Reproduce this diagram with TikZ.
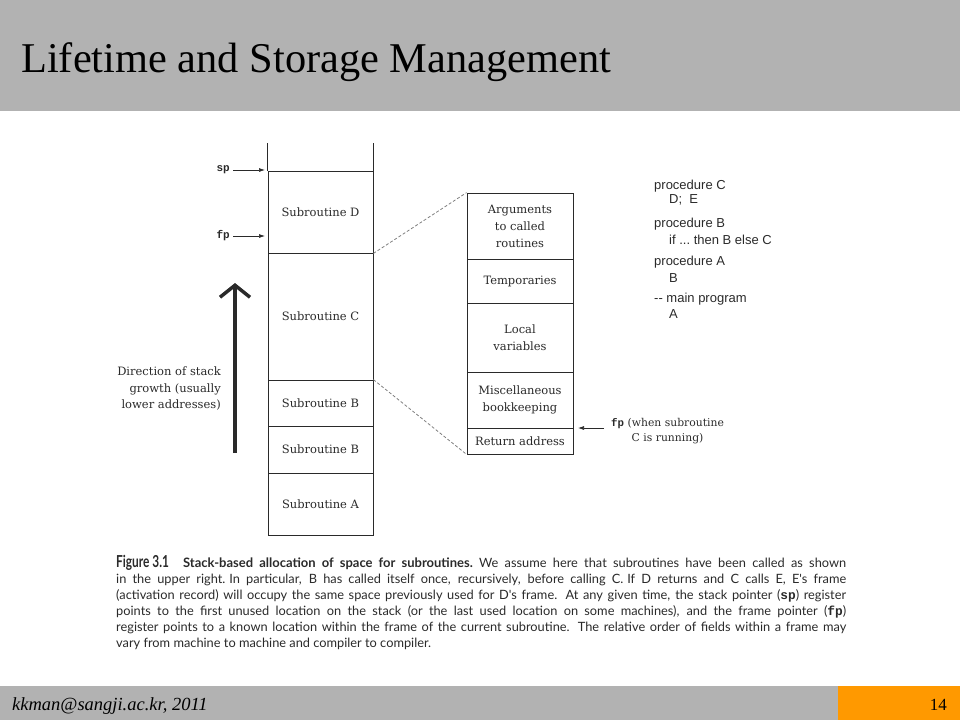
\documentclass[tikz,border=0pt]{standalone}
\usepackage{fontspec}
\usepackage{graphicx}
\setmainfont{Liberation Serif}
\setmonofont{Liberation Mono}
\newfontfamily\figfont{DejaVu Serif}
\newfontfamily\procfont{Liberation Sans}
\newfontfamily\capfont{Lato}
\usetikzlibrary{arrows.meta}
\definecolor{bandgray}{HTML}{B2B2B2}
\definecolor{footorange}{HTML}{FF9900}
\definecolor{ink}{HTML}{2A2A2A}
\tikzset{
  cell/.style={draw=ink, line width=0.8pt, minimum width=105pt, inner sep=0pt, text=ink,
     font=\figfont\fontsize{11.5}{17}\selectfont, align=center},
  fcell/.style={cell, minimum width=106pt},
  ptr/.style={draw=ink, line width=0.7pt, -{Latex[length=6pt,width=4pt]}},
  zoomline/.style={draw=gray, line width=0.8pt, dash pattern=on 3pt off 2pt},
  proc/.style={anchor=base west, inner sep=0pt, text=ink, font=\procfont\fontsize{13}{15}\selectfont},
  capline/.style={anchor=base west, inner sep=0pt, text=ink, font=\capfont\fontsize{12.8}{14}\selectfont},
  ptrlabel/.style={inner sep=0pt, text=ink, font=\ttfamily\bfseries\fontsize{11}{13}\selectfont},
}
\newcommand{\capfill}[1]{\makebox[730pt][s]{#1}}
\begin{document}
\begin{tikzpicture}[x=1pt,y=-1pt]
\useasboundingbox (0,0) rectangle (960,720);
% header and footer
\fill[bandgray] (0,0) rectangle (960,111);
\node[anchor=base west, inner sep=0pt, font=\fontsize{42.4}{46}\selectfont] (title) at (21,72) {Lifetime and Storage Management};
\fill[bandgray] (0,686) rectangle (838,720);
\fill[footorange] (838,686) rectangle (960,720);
\node[anchor=base west, inner sep=0pt, font=\itshape\fontsize{18.5}{20}\selectfont] (foot) at (12,710) {kkman@sangji.ac.kr, 2011};
\node[anchor=base east, inner sep=0pt, font=\fontsize{17}{19}\selectfont] (page) at (947,710) {14};

% stack
\node[cell, minimum height=82pt] (D) at (320.5,212) {Subroutine D};
\node[cell, minimum height=127pt] (C) at (320.5,316.5) {Subroutine C};
\node[cell, minimum height=46pt] (B2) at (320.5,403) {Subroutine B};
\node[cell, minimum height=47pt] (B1) at (320.5,449.5) {Subroutine B};
\node[cell, minimum height=62pt] (A) at (320.5,504) {Subroutine A};
\draw[ink, line width=0.8pt] (D.north west) -- ++(0,-28);
\draw[ink, line width=0.8pt] (D.north east) -- ++(0,-28);

% sp / fp pointers
\node[ptrlabel, anchor=east] (sp) at (230,170) {sp};
\coordinate (sptip) at (265,170);
\draw[ptr] (sp.east) ++(3,0) -- (sptip);
\node[ptrlabel, anchor=east] (fp) at (230,236) {fp};
\coordinate (fptip) at (265,236);
\draw[ptr] (fp.east) ++(3,0) -- (fptip);

% growth arrow
\coordinate (gbot) at (235,453);
\coordinate (gtop) at (235,283);
\draw[ink, line width=4pt, -{Straight Barb[length=12pt,width=30pt,line width=3.5pt]}] (gbot) -- (gtop);
\node[anchor=east, align=right, inner sep=0pt, text=ink, font=\figfont\fontsize{11.5}{16.5}\selectfont] (growth) at (221,389)
  {Direction of stack\\growth (usually\\lower addresses)};

% frame detail
\node[fcell, minimum height=66pt] (args) at (520,226) {Arguments\\to called\\routines};
\node[fcell, minimum height=44pt] (temp) at (520,281) {Temporaries};
\node[fcell, minimum height=69pt] (local) at (520,337.5) {Local\\variables};
\node[fcell, minimum height=56pt] (misc) at (520,400) {Miscellaneous\\bookkeeping};
\node[fcell, minimum height=26pt] (ret) at (520,441) {Return address};

\draw[zoomline] (D.south east) -- (args.north west);
\draw[zoomline] (B2.north east) -- (ret.south west);

% fp when C running
\node[anchor=west, align=center, inner sep=0pt, text=ink, font=\figfont\fontsize{10.8}{15}\selectfont] (fpc) at (611,431)
  {{\ttfamily\bfseries fp} (when subroutine\\C is running)};
\coordinate (fpctip) at (578,428);
\draw[ptr] (fpc.west |- fpctip) ++(-7,0) -- (fpctip);

% procedures
\node[proc] (p1) at (654,189) {procedure C};
\node[proc] (p2) at (669,203) {D;\ \ E};
\node[proc] (p3) at (654,227) {procedure B};
\node[proc] (p4) at (669,244) {if ...\ then B else C};
\node[proc] (p5) at (654,265) {procedure A};
\node[proc] (p6) at (669,282) {B};
\node[proc] (p7) at (654,302) {-{}- main program};
\node[proc] (p8) at (669,318) {A};

% caption
\node[capline] (c1) at (116,567) {\capfill{{\fontsize{16.5}{17}\selectfont\bfseries\scalebox{0.72}[1]{Figure 3.1}}\hspace{1.1em}{\fontsize{13}{14}\selectfont\bfseries Stack-based allocation of space for subroutines.}\hspace{0.5em}We assume here that subroutines have been called as shown}};
\node[capline] (c2) at (116,583) {\capfill{in the upper right.\hspace{0.3em}In particular, B has called itself once, recursively, before calling C.\hspace{0.3em}If D returns and C calls E, E's frame}};
\node[capline] (c3) at (116,599) {\capfill{(activation record) will occupy the same space previously used for D's frame. At any given time, the stack pointer ({\ttfamily\bfseries sp}) register}};
\node[capline] (c4) at (116,615) {\capfill{points to the first unused location on the stack (or the last used location on some machines), and the frame pointer ({\ttfamily\bfseries fp})}};
\node[capline] (c5) at (116,631) {\capfill{register points to a known location within the frame of the current subroutine. The relative order of fields within a frame may}};
\node[capline] (c6) at (116,647) {vary from machine to machine and compiler to compiler.};
\end{tikzpicture}
\end{document}
